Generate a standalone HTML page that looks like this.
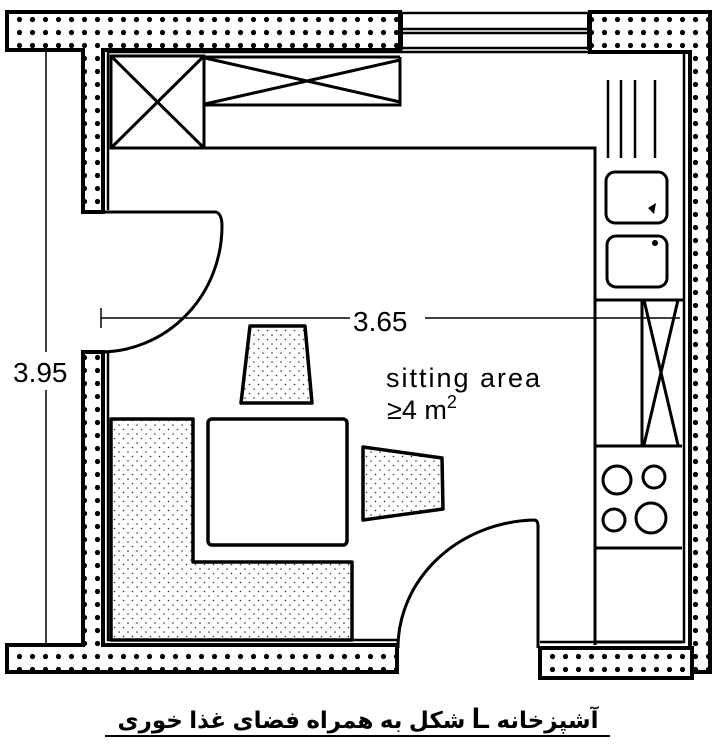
<!DOCTYPE html>
<html><head><meta charset="utf-8"><style>
html,body{margin:0;padding:0;background:#fff;width:722px;height:754px;overflow:hidden}
svg{display:block}
</style></head><body>
<svg width="722" height="754" viewBox="0 0 722 754" xmlns="http://www.w3.org/2000/svg">
<defs>
<pattern id="dots" width="13" height="13" patternUnits="userSpaceOnUse">
<rect width="13" height="13" fill="#fff"/>
<circle cx="6.5" cy="6.5" r="2.6" fill="#000"/>
</pattern>
<pattern id="stip" width="9" height="9" patternUnits="userSpaceOnUse">
<rect width="9" height="9" fill="#fff"/>
<circle cx="2" cy="2" r="0.8" fill="#333"/>
<circle cx="6.5" cy="6.5" r="0.8" fill="#333"/>
</pattern>
</defs>
<g stroke="#000" fill="url(#dots)" stroke-width="4">
<path d="M7 12 H400 V50 H103 V212 H83 V50 H7 Z"/>
<path d="M590 12 H710 V672 H690 V52 H590 Z"/>
<path d="M83 352 H103 V645 H397 V672 H7 V645 H83 Z"/>
<path d="M540 648 H692 V678 H540 Z"/>
</g>
<g stroke="#000" fill="none">
<path d="M400 13 H590 M400 29 H590 M400 33 H590 M400 48 H590" stroke-width="2.5"/>
<path d="M401 12 V50 M589 12 V50" stroke-width="4"/>
</g>
<path d="M108 52 H684 V642 H540 M108 52 V210 M108 352 V640 H397" stroke="#000" stroke-width="2.5" fill="none"/>
<g stroke="#000" stroke-width="1.5" fill="none">
<path d="M46 52 V352 M46 390 V645"/>
<path d="M101 308 V328 M101 318 H350 M425 318 H680"/>
</g>
<text x="13" y="382" font-family="Liberation Sans, sans-serif" font-size="28">3.95</text>
<text x="353" y="331" font-family="Liberation Sans, sans-serif" font-size="28">3.65</text>
<path d="M100 212 H216 Q222 214 222 226 A122 126 0 0 1 100 352" stroke="#000" stroke-width="3" fill="none"/>
<path d="M398 648 A140 128 0 0 1 534 520 Q538 520 538 526 V648" stroke="#000" stroke-width="3" fill="none"/>
<g stroke="#000" stroke-width="3" fill="none">
<rect x="111" y="56" width="93" height="92"/>
<path d="M112 57 L203 147 M112 147 L203 57"/>
<path d="M204 57 H400 M204 105 H400 V57 M205 58 L400 102 M205 104 L400 60"/>
<path d="M111 148 H595 V300 M595 300 V645"/>
<path d="M684 300 H595"/>
<path d="M608 80 V158 M621 80 V158 M635 80 V158 M655 80 V158" stroke-width="2.5"/>
<rect x="606" y="172" width="61" height="51" rx="9"/>
<rect x="607" y="236" width="60" height="51" rx="9"/>
<path d="M642 300 V446 M644 300 L678 445 M678 300 L644 445"/>
<path d="M595 446 H682 M595 548 H682 M596 642 H682"/>
<circle cx="617" cy="480" r="14"/>
<circle cx="654" cy="477" r="11"/>
<circle cx="614" cy="520" r="11"/>
<circle cx="651" cy="518" r="15"/>
</g>
<path d="M648 208 L656 203 L654 214 Z" fill="#000"/>
<circle cx="655" cy="243" r="3" fill="#000"/>
<g stroke="#000" stroke-width="3.5" stroke-linejoin="round">
<path d="M250 326 H305 L312 403 H241 Z" fill="url(#stip)"/>
<path d="M363 447 L442 458 L443 509 L363 520 Z" fill="url(#stip)"/>
<rect x="208" y="419" width="139" height="126" rx="4" fill="#fff"/>
<path d="M111 419 H193 V562 H352 V640 H111 Z" fill="url(#stip)"/>
</g>
<text x="386" y="387" font-family="Liberation Sans, sans-serif" font-size="27" letter-spacing="2">sitting area</text>
<text x="387" y="419" font-family="Liberation Sans, sans-serif" font-size="27">≥4 m<tspan font-size="18" dy="-11">2</tspan></text>
<text x="358" y="728" text-anchor="middle" direction="rtl" font-family="Liberation Sans, 'DejaVu Sans', sans-serif" font-size="23" font-weight="bold">آشپزخانه <tspan font-size="30">L</tspan> شکل به همراه فضای غذا خوری</text>
<path d="M105 736 H610" stroke="#000" stroke-width="2"/>
</svg>
</body></html>
